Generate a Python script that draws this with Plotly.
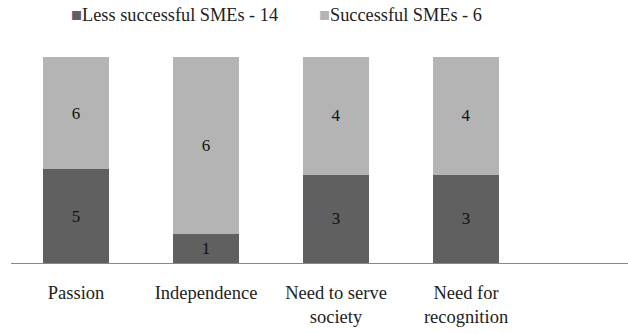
import plotly.graph_objects as go

categories = ["Passion", "Independence", "Need to serve<br>society", "Need for<br>recognition"]
less_successful = [5, 1, 3, 3]
successful = [6, 6, 4, 4]
series_names = ["Less successful SMEs - 14", "Successful SMEs - 6"]
series_colors = ["#606060", "#b4b4b4"]

totals = [a + b for a, b in zip(less_successful, successful)]
less_pct = [a / t for a, t in zip(less_successful, totals)]
succ_pct = [b / t for b, t in zip(successful, totals)]

FAM = "Liberation Serif, Times New Roman, serif"
font = dict(family=FAM, size=15, color="#222222")

fig = go.Figure()
for vals, pct, name, col in [(less_successful, less_pct, series_names[0], series_colors[0]),
                             (successful, succ_pct, series_names[1], series_colors[1])]:
    fig.add_trace(go.Bar(
        x=list(range(len(categories))), y=pct, name=name,
        marker=dict(color=col, line=dict(width=0)),
        text=[str(v) for v in vals], textposition="inside",
        insidetextanchor="middle", textfont=dict(family=FAM, size=17, color="#111111"),
        width=0.51, hoverinfo="skip", showlegend=False,
    ))

W, H, L, T, B = 628, 333, 11, 57, 70
pw, ph = W - L, H - T - B
legend_x_px = [69, 317]
for name, col, xp in zip(series_names, series_colors, legend_x_px):
    fig.add_annotation(
        xref="paper", yref="paper", x=(xp - L) / pw, y=1 + (T - 15) / ph,
        xanchor="left", yanchor="middle", showarrow=False,
        text=f'<span style="color:{col}">■</span>{name}',
        font=dict(family=FAM, size=18.3, color="#222222"),
    )

fig.update_layout(
    width=W, height=H,
    barmode="stack",
    plot_bgcolor="white", paper_bgcolor="white",
    margin=dict(l=L, r=0, t=T, b=B),
    font=font,
    uniformtext=dict(minsize=15, mode="show"),
    showlegend=False,
    xaxis=dict(
        range=[-0.5, 4.246], tickmode="array", tickvals=list(range(len(categories))),
        ticktext=categories, showline=True, linecolor="#888888", linewidth=1,
        showgrid=False, zeroline=False, ticks="", tickfont=dict(family=FAM, size=18.5, color="#222222"),
        ticklabelstandoff=13,
    ),
    yaxis=dict(range=[0, 1], visible=False, showgrid=False, zeroline=False),
)

fig.write_html("out.html")
